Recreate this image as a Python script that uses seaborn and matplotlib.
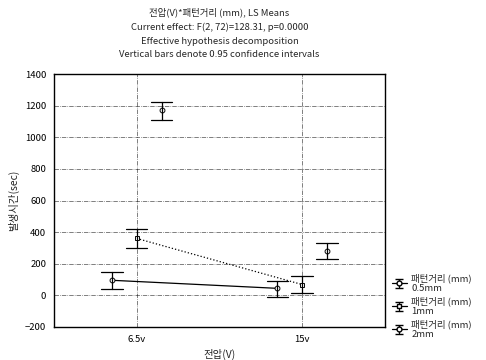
import pandas as pd
import seaborn as sns
import matplotlib.pyplot as plt

# LS means and 0.95 CI bounds
voltages = ["6.5v", "15v"]
gaps = ["패턴거리 (mm)\n0.5mm", "패턴거리 (mm)\n1mm", "패턴거리 (mm)\n2mm"]
means = {
    gaps[0]: [95, 44],
    gaps[1]: [360, 68],
    gaps[2]: [1170, 282],
}
lower = {
    gaps[0]: [42, -13],
    gaps[1]: [300, 12],
    gaps[2]: [1112, 228],
}
upper = {
    gaps[0]: [150, 90],
    gaps[1]: [420, 122],
    gaps[2]: [1222, 332],
}
markers = ["o", "s", "o"]
styles = ["-", ":", "none"]

# long table: lower / mean / upper per cell, median = mean, full range = CI
rows = []
for g in gaps:
    for i, v in enumerate(voltages):
        for val in (lower[g][i], means[g][i], upper[g][i]):
            rows.append({"전압(V)": v, "gap": g, "발생시간(sec)": val})
df = pd.DataFrame(rows)

sns.set_style("white")
plt.rcParams["font.family"] = ["Noto Sans CJK KR", "DejaVu Sans"]
plt.rcParams["font.size"] = 6.5

fig = plt.figure(figsize=(4.86, 3.6), dpi=100)
ax = fig.add_axes([0.111, 0.092, 0.681, 0.702])

sns.pointplot(
    data=df, x="전압(V)", y="발생시간(sec)", hue="gap", order=voltages,
    hue_order=gaps, estimator="median", errorbar=("pi", 100), dodge=0.3,
    markers=markers, linestyles=styles,
    palette=["black"] * 3, capsize=0.13, err_kws={"linewidth": 0.9},
    markersize=3.5, linewidth=0.9, markerfacecolor="white", ax=ax,
    legend=False,
)

ax.set_ylim(-200, 1400)
ax.set_yticks(range(-200, 1401, 200))
ax.set_xlim(-0.5, 1.5)
ax.grid(True, linestyle="-.", color="black", linewidth=0.5, alpha=0.7)
ax.set_axisbelow(True)
for s in ax.spines.values():
    s.set_color("black")
    s.set_linewidth(1.0)
ax.tick_params(axis="both", length=2, labelsize=6.8, colors="black")
ax.set_xlabel("전압(V)", fontsize=7.5)
ax.set_ylabel("발생시간(sec)", fontsize=7.5)

ax.set_title(
    "전압(V)*패턴거리 (mm), LS Means\n"
    "Current effect: F(2, 72)=128.31, p=0.0000\n"
    "Effective hypothesis decomposition\n"
    "Vertical bars denote 0.95 confidence intervals",
    fontsize=6.8, linespacing=1.7, pad=12,
)

# legend keys drawn as mean marker with capped bar, like the original
handles = []
for m, ls in zip(markers, styles):
    h = ax.errorbar([float("nan")], [float("nan")], yerr=[float("nan")],
                    fmt=m, linestyle="-", color="black", mfc="white",
                    markersize=3.5, capsize=3, linewidth=0.9)
    handles.append(h)
ax.set_xlim(-0.5, 1.5)
ax.legend(
    handles, gaps, loc="lower left", bbox_to_anchor=(1.0, -0.075),
    frameon=False, fontsize=6.8, handlelength=1.6, labelspacing=0.3,
    borderaxespad=0.3, handletextpad=0.5,
)

fig.savefig("out.png", dpi=100)
